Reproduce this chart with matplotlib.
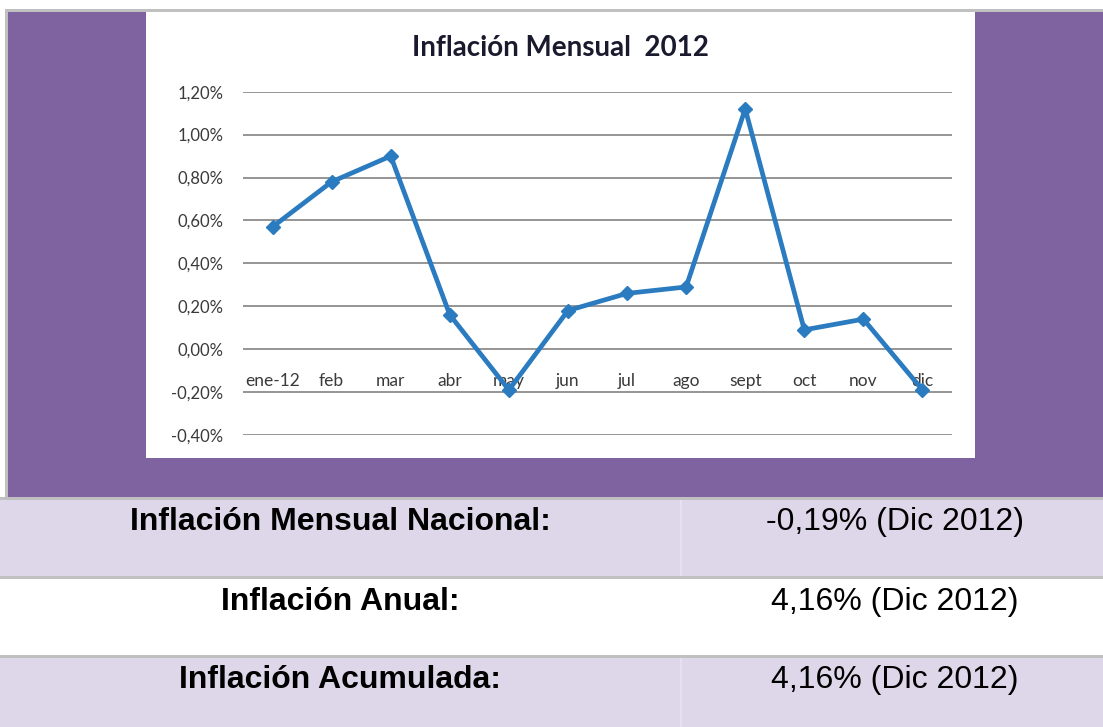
import matplotlib
matplotlib.use("Agg")
import matplotlib.pyplot as plt
from matplotlib.patches import Rectangle

# data
months = ["ene-12", "feb", "mar", "abr", "may", "jun",
          "jul", "ago", "sept", "oct", "nov", "dic"]
inflacion = [0.57, 0.78, 0.90, 0.16, -0.19, 0.18,
             0.26, 0.29, 1.12, 0.09, 0.14, -0.19]
y_ticks = [-0.40, -0.20, 0.00, 0.20, 0.40, 0.60, 0.80, 1.00, 1.20]
y_labels = ["-0,40%", "-0,20%", "0,00%", "0,20%", "0,40%",
            "0,60%", "0,80%", "1,00%", "1,20%"]
row_names = ["Inflación Mensual Nacional:", "Inflación Anual:", "Inflación Acumulada:"]
row_values = ["-0,19% (Dic 2012)", "4,16% (Dic 2012)", "4,16% (Dic 2012)"]

W, H = 1103, 727
fig = plt.figure(figsize=(W / 100, H / 100), dpi=100)
fig.patch.set_facecolor("white")

PURPLE = "#7f63a1"
LAVENDER = "#ddd7e9"
GRAY = "#c0c0c0"


def px_box(x0, y0, x1, y1):
    # pixel coords (top-left origin) -> figure fraction rect
    return (x0 / W, 1 - y1 / H, (x1 - x0) / W, (y1 - y0) / H)


def add_rect(x0, y0, x1, y1, color):
    l, b, w, h = px_box(x0, y0, x1, y1)
    fig.patches.append(Rectangle((l, b), w, h, transform=fig.transFigure,
                                 facecolor=color, edgecolor="none", zorder=0))


# background bands
add_rect(5, 9, W, 500, GRAY)
add_rect(8, 12, W, 497, PURPLE)
add_rect(0, 497, W, 500, GRAY)
add_rect(0, 500, W, 576, LAVENDER)
add_rect(0, 576, W, 579, GRAY)
add_rect(0, 579, W, 655, "white")
add_rect(0, 655, W, 658, GRAY)
add_rect(0, 658, W, H, LAVENDER)
# column divider
add_rect(680, 500, 682, 576, "#e6e1ef")
add_rect(680, 658, 682, H, "#e6e1ef")

# white chart panel
add_rect(146, 12, 975, 458, "white")

ax = fig.add_axes(px_box(243, 91.7, 952, 435))
ax.set_zorder(5)
ax.set_facecolor("none")
x = list(range(len(months)))
ax.plot(x, inflacion, color="#2a7bbf", lw=3.4, marker="D", ms=7.5,
        markerfacecolor="#2a7bbf", markeredgecolor="#2a7bbf", zorder=3)

ax.set_xlim(-0.5, len(months) - 0.5)
ax.set_ylim(-0.40, 1.20)
ax.set_yticks(y_ticks)
ax.set_yticklabels(y_labels, fontfamily="Lato", fontsize=12, color="#3a3a3a")
ax.yaxis.grid(True, color="#8c8c8c", lw=1.3)
ax.set_axisbelow(True)
ax.tick_params(axis="y", length=0, pad=14)

ax.spines["bottom"].set_position(("data", 0))
for s in ax.spines.values():
    s.set_visible(False)
ax.set_xticks(x)
ax.set_xticklabels(months, fontfamily="Lato", fontsize=12.5, color="#3a3a3a")
ax.tick_params(axis="x", length=0, pad=17.5)

fig.text(560 / W, 1 - 48 / H, "Inflación Mensual  2012", fontfamily="Lato",
         fontweight="bold", fontsize=20, color="#1a1a2e", ha="center", va="center")

# table text
baselines = [530, 610, 688]
for name, val, yb in zip(row_names, row_values, baselines):
    fig.text(340 / W, 1 - yb / H, name, fontfamily="Liberation Sans", fontweight="bold",
             fontsize=23, color="black", ha="center", va="baseline")
    fig.text(895 / W, 1 - yb / H, val, fontfamily="Liberation Sans",
             fontsize=23, color="black", ha="center", va="baseline")

fig.savefig("out.png", dpi=100)
